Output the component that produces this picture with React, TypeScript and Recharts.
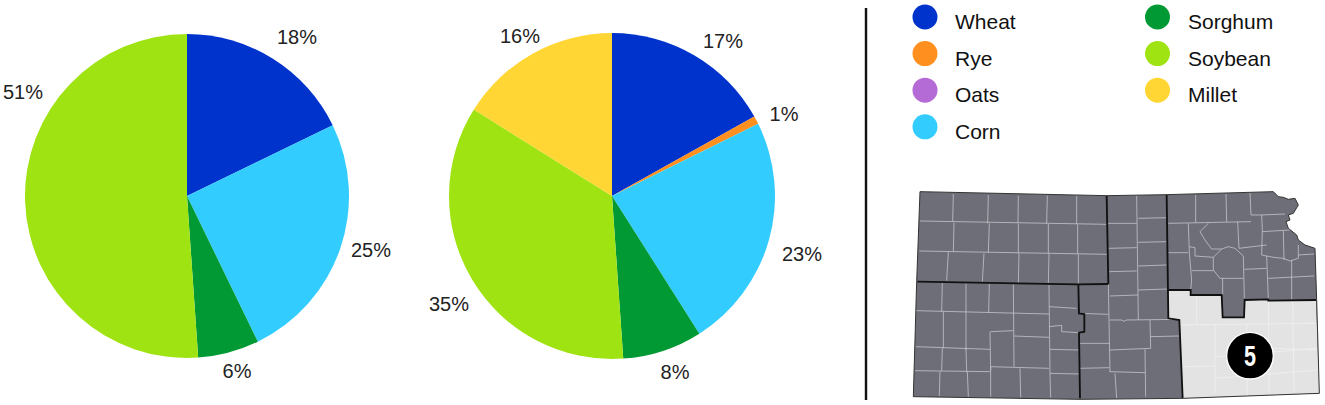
import React from "react";
import { PieChart, Pie, Cell } from "recharts";

const categories = ["Wheat", "Rye", "Oats", "Corn", "Sorghum", "Soybean", "Millet"];
const colors = ["#0033CC", "#FF8F1F", "#B56BD6", "#33CCFF", "#009933", "#A0E312", "#FFD633"];
const leftValues = [17.8, 0, 0, 25, 6.1, 51.1, 0];
const rightValues = [16.9, 0.8, 0, 23.3, 7.9, 35, 16.1];

const FONT = "'Liberation Sans', Arial, sans-serif";
const leftLabelOffsets: ([number, number] | null)[] = [[110, -159], null, null, [184, 54], [50, 175], [-164, -104], null];
const rightLabelOffsets: ([number, number] | null)[] = [[111, -155], [172, -82], null, [190, 58], [63, 176], [-163, 108], [-92, -160]];

const leftData = categories.map((name, i) => ({ name, value: leftValues[i] }));
const rightData = categories.map((name, i) => ({ name, value: rightValues[i] }));

const legendLeft = [0, 1, 2, 3];
const legendRight = [4, 5, 6];

const makeLabel = (offsets: ([number, number] | null)[], cx: number, cy: number) => (p: any) => {
  const i = categories.indexOf(p.name);
  const o = offsets[i];
  if (!o || !p.value) return null;
  return (
    <text x={cx + o[0]} y={cy + o[1]} textAnchor="middle" dominantBaseline="central" fontFamily={FONT} fontSize={20} fill="#222">
      {Math.round(p.value)}%
    </text>
  );
};

// Map geometry, in a local drawing space
const stateOutline = "M60,35 L620,47 L800,44 L1120,35 L1135,50 L1150,52 L1165,58 L1185,55 L1195,75 L1180,100 L1165,105 L1170,120 L1158,125 L1165,145 L1190,165 L1195,180 L1215,195 L1245,205 L1250,360 L1258,640 L850,655 L540,658 L40,650 L50,305 Z";
const region5 = "M805,330 L872,330 L872,345 L965,345 L968,412 L1032,412 L1034,360 L1105,358 L1105,362 L1248,360 L1258,640 L848,655 L838,420 L805,415 Z";
const districtLines = [
  "M52,305 L535,313 L625,312",
  "M620,47 L625,312",
  "M535,313 L537,400 L553,402 L553,455 L537,458 L540,655",
  "M800,44 L805,415 L838,420 L848,655",
  "M805,330 L872,330 L872,345 L965,345 L968,412 L1032,412 L1034,360 L1105,358 L1105,362 L1248,360",
];
const countyLines = [
  "M160,42 L158,125", "M265,45 L263,130", "M355,47 L354,130", "M442,47 L440,130", "M530,47 L530,132",
  "M60,123 L620,133", "M58,213 L622,223",
  "M162,128 L160,215", "M268,130 L265,218", "M355,132 L355,222", "M445,132 L445,222", "M533,133 L533,222",
  "M145,215 L140,302", "M252,220 L247,305", "M357,222 L355,308", "M447,222 L445,310", "M535,223 L535,312",
  "M127,308 L125,395", "M198,310 L198,510", "M268,312 L266,398", "M340,313 L342,560", "M48,392 L447,402",
  "M447,315 L450,580", "M130,395 L130,505", "M47,500 L270,508", "M270,455 L272,572", "M272,455 L340,452",
  "M342,468 L447,472", "M127,505 L125,572", "M198,505 L200,575", "M45,572 L270,575", "M120,575 L118,648",
  "M202,575 L205,650", "M272,560 L447,565", "M272,560 L272,650", "M360,565 L362,652", "M447,380 L530,385",
  "M447,440 L485,436 L485,455 L537,458", "M450,508 L537,510", "M450,580 L537,582", "M450,580 L452,652",
  "M710,47 L715,420", "M622,130 L710,130", "M715,115 L800,113", "M625,205 L710,203", "M715,187 L800,185",
  "M628,275 L710,273", "M715,258 L800,255", "M630,348 L715,345", "M715,330 L805,327", "M625,312 L630,575",
  "M540,400 L625,403", "M630,420 L665,420 L672,424 L680,420 L838,418", "M750,420 L752,505", "M752,470 L838,468",
  "M630,510 L752,505", "M540,490 L628,490", "M540,565 L628,563", "M628,575 L735,578", "M735,508 L737,650",
  "M645,580 L650,655",
  "M887,44 L887,128", "M978,42 L980,125", "M1050,38 L1053,105", "M805,130 L1053,125", "M865,130 L868,218 L875,300 L872,330",
  "M805,218 L865,218", "M925,130 L900,155 L915,180 L935,207 L965,207 L985,200 L1005,205 L1030,228 L1033,355",
  "M1013,125 L1017,205", "M1017,205 L1100,195", "M1053,105 L1085,105", "M1085,105 L1155,102", "M1085,105 L1087,150 L1085,225",
  "M1087,155 L1170,150", "M1150,152 L1152,240", "M1085,225 L1120,232 L1150,235 L1170,243 L1195,235 L1195,195", "M1195,225 L1243,222",
  "M1100,228 L1105,358", "M1033,268 L1100,265", "M1105,295 L1243,288", "M1175,240 L1175,358",
  "M868,200 L885,203 L885,228 L940,232 L940,270 L960,295 L1030,295", "M875,272 L940,272", "M940,232 L965,207", "M968,295 L968,345",
];
const region5Lines = [
  "M890,345 L890,433", "M838,435 L1250,430", "M945,433 L945,640", "M1105,362 L1108,640", "M1178,362 L1182,635",
  "M848,560 L945,558", "M945,530 L1250,505", "M945,595 L1255,570", "M1040,430 L1042,650", "M1108,505 L1255,510",
];

const Legend2 = () => {
  const item = (idx: number, row: number, cxPos: number, tx: number) => (
    <g key={idx}>
      <circle cx={cxPos} cy={17 + row * 36.6} r={12.5} fill={colors[idx]} />
      <text x={tx} y={29 + row * 36.5} fontFamily={FONT} fontSize={21} fill="#111">{categories[idx]}</text>
    </g>
  );
  return (
    <>
      {legendLeft.map((c, r) => item(c, r, 925, 955))}
      {legendRight.map((c, r) => item(c, r, 1157.5, 1188))}
    </>
  );
};

export default function App() {
  return (
    <div style={{ position: "absolute", left: 0, top: 0, width: 1325, height: 405, background: "#fff", overflow: "hidden" }}>
      <div style={{ position: "absolute", left: 0, top: 0 }}>
        <PieChart width={860} height={405} margin={{ top: 0, right: 0, bottom: 0, left: 0 }}>
          <Pie data={leftData} dataKey="value" nameKey="name" cx={187} cy={196} outerRadius={162} startAngle={90} endAngle={-270}
            stroke="none" isAnimationActive={false} labelLine={false} label={makeLabel(leftLabelOffsets, 187, 196)}>
            {leftData.map((d, i) => <Cell key={d.name} fill={colors[i]} />)}
          </Pie>
          <Pie data={rightData} dataKey="value" nameKey="name" cx={612} cy={196} outerRadius={163} startAngle={90} endAngle={-270}
            stroke="none" isAnimationActive={false} labelLine={false} label={makeLabel(rightLabelOffsets, 612, 196)}>
            {rightData.map((d, i) => <Cell key={d.name} fill={colors[i]} />)}
          </Pie>
        </PieChart>
      </div>
      <svg width={1325} height={405} style={{ position: "absolute", left: 0, top: 0, pointerEvents: "none" }}>
        <line x1={866} y1={8} x2={866} y2={400} stroke="#111" strokeWidth={2.4} />
        <Legend2 />
        <g transform="translate(900,180) scale(0.33333)">
          <path d={stateOutline} fill="#6D6E78" />
          <path d={region5} fill="#E3E3E4" />
          {countyLines.map((d, i) => (
            <path key={i} d={d} fill="none" stroke="#C4C5C9" strokeWidth={3} strokeOpacity={0.8} />
          ))}
          {region5Lines.map((d, i) => (
            <path key={i} d={d} fill="none" stroke="#EEEEEF" strokeWidth={3} />
          ))}
          {districtLines.map((d, i) => (
            <path key={i} d={d} fill="none" stroke="#111" strokeWidth={5.5} />
          ))}
          <path d={stateOutline} fill="none" stroke="#333" strokeWidth={3} />
          <circle cx={1050} cy={527} r={70} fill="#000" stroke="#fff" strokeWidth={4} />
          <text transform="translate(1050,527) scale(0.72,1)" textAnchor="middle" dominantBaseline="central" fontFamily="'Liberation Sans', sans-serif" fontWeight={700} fontSize={90} fill="#fff">5</text>
        </g>
      </svg>
    </div>
  );
}
